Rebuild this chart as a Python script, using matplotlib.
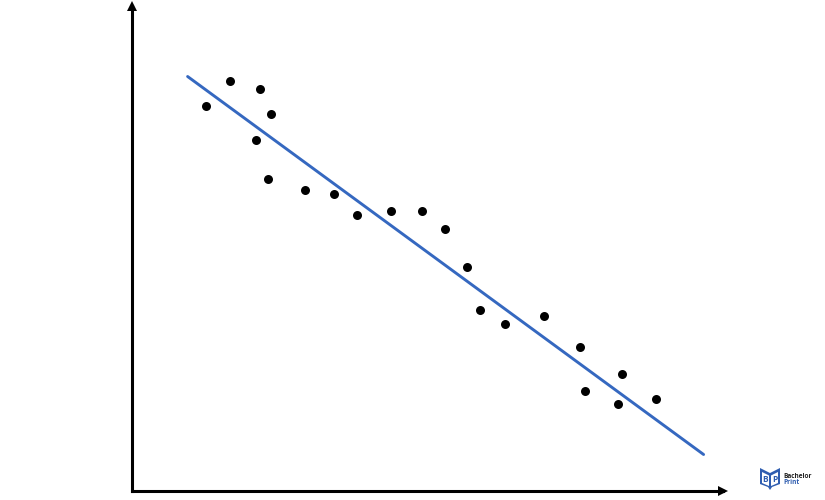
import matplotlib
matplotlib.use('Agg')
import matplotlib.pyplot as plt
from matplotlib.patches import Polygon

# --- DATA (origin at the axes corner) ---
x_vals = [74, 98, 128, 139, 124, 136, 173, 202, 225, 259, 290, 313, 335, 348, 373, 412, 448, 453, 486, 490, 524]
y_vals = [385, 410, 402, 377, 351, 312, 301, 297, 276, 280, 280, 262, 224, 181, 167, 175, 144, 100, 87, 117, 92]
line_x = [56, 572]
line_y = [414, 36]

W, H = 825, 500
fig = plt.figure(figsize=(W / 100, H / 100), dpi=100, facecolor='white')

# --- MAIN AXES ---
ax = fig.add_axes([131.6 / W, 9.5 / H, 591 / W, 485 / H])
ax.set_xlim(0, 591)
ax.set_ylim(0, 485)
ax.patch.set_visible(False)
ax.set_xticks([])
ax.set_yticks([])
ax.spines['top'].set_visible(False)
ax.spines['right'].set_visible(False)
ax.spines['left'].set_linewidth(2.2)
ax.spines['bottom'].set_linewidth(2.2)

ax.plot(line_x, line_y, color='#3568C0', lw=2.1, solid_capstyle='round', zorder=2)
ax.scatter(x_vals, y_vals, s=42, color='black', linewidths=0, zorder=3)

# arrow heads at the axis ends
ax.plot(1, 0, '>k', transform=ax.transAxes, ms=7, clip_on=False, mew=0)
ax.plot(0, 1, '^k', transform=ax.transAxes, ms=7, clip_on=False, mew=0)

# --- LOGO ---
logo = fig.add_axes([0, 0, 1, 1])
logo.set_xlim(0, W)
logo.set_ylim(H, 0)
logo.axis('off')
logo.patch.set_visible(False)
blue = '#2F5DB0'
logo.add_patch(Polygon([(760, 468), (770, 473), (780, 468), (780, 484), (772, 487), (770, 490), (768, 487), (760, 484)],
                       closed=True, facecolor=blue, edgecolor='none'))
logo.add_patch(Polygon([(762, 472), (769, 475.5), (769, 486), (762, 483)], closed=True, facecolor='white', edgecolor='none'))
logo.add_patch(Polygon([(771, 475.5), (778, 472), (778, 483), (771, 486)], closed=True, facecolor='white', edgecolor='none'))
logo.text(765.5, 480, 'B', color=blue, fontsize=6, fontweight='bold', ha='center', va='center', family='Open Sans')
logo.text(774.5, 480, 'P', color=blue, fontsize=6, fontweight='bold', ha='center', va='center', family='Open Sans')
logo.text(783, 476.5, 'Bachelor', color='#222222', fontsize=4.7, fontweight='bold', va='center', family='Open Sans')
logo.text(783, 482.5, 'Print', color=blue, fontsize=4.7, fontweight='bold', va='center', family='Open Sans')

plt.savefig('out.png', dpi=100, facecolor='white')
